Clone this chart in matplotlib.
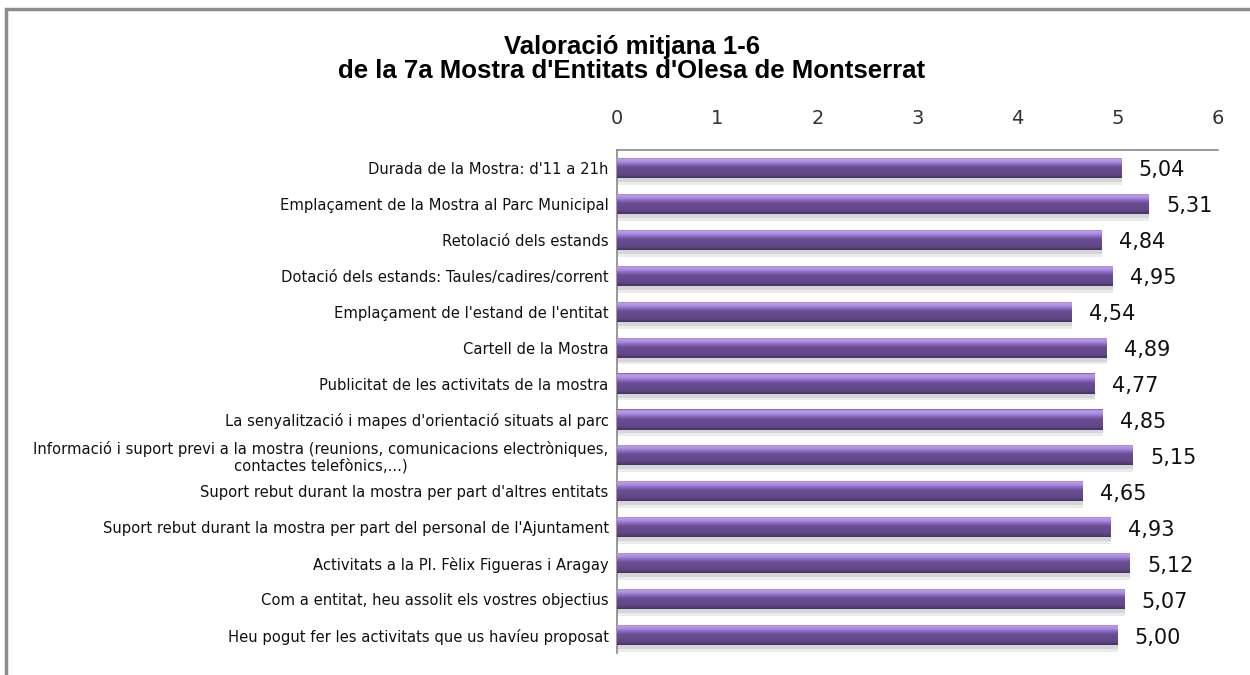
import numpy as np
import matplotlib
matplotlib.use("Agg")
import matplotlib.pyplot as plt
from matplotlib.colors import LinearSegmentedColormap
from matplotlib.patches import Rectangle

title = "Valoració mitjana 1-6\nde la 7a Mostra d'Entitats d'Olesa de Montserrat"
categories = [
    "Durada de la Mostra: d'11 a 21h",
    "Emplaçament de la Mostra al Parc Municipal",
    "Retolació dels estands",
    "Dotació dels estands: Taules/cadires/corrent",
    "Emplaçament de l'estand de l'entitat",
    "Cartell de la Mostra",
    "Publicitat de les activitats de la mostra",
    "La senyalització i mapes d'orientació situats al parc",
    "Informació i suport previ a la mostra (reunions, comunicacions electròniques,\ncontactes telefònics,...)",
    "Suport rebut durant la mostra per part d'altres entitats",
    "Suport rebut durant la mostra per part del personal de l'Ajuntament",
    "Activitats a la Pl. Fèlix Figueras i Aragay",
    "Com a entitat, heu assolit els vostres objectius",
    "Heu pogut fer les activitats que us havíeu proposat",
]
values = [5.04, 5.31, 4.84, 4.95, 4.54, 4.89, 4.77, 4.85, 5.15, 4.65, 4.93, 5.12, 5.07, 5.00]
xticks = [0, 1, 2, 3, 4, 5, 6]

fig = plt.figure(figsize=(12.5, 6.75), dpi=100)
ax = fig.add_axes([617/1250, 1-653/675, 601/1250, 503/675])

y = np.arange(len(categories))
bar_h = 0.56
bars = ax.barh(y, values, height=bar_h, color="#6f5299", zorder=3)

# shadows
ax.barh(y + bar_h/2 + 0.06, values, height=0.14, color="#d6d6d6", zorder=2, linewidth=0)
ax.barh(y + bar_h/2 + 0.15, values, height=0.08, color="#ebebeb", zorder=2, linewidth=0)

cmap = LinearSegmentedColormap.from_list("g", [
    (0.0, "#7e60b0"), (0.08, "#bc9cec"), (0.22, "#ac8ce0"), (0.36, "#8666bc"),
    (0.48, "#6a4e94"), (0.85, "#614786"), (1.0, "#443262")])
grad = np.linspace(0, 1, 64).reshape(-1, 1)
for b in bars:
    x0, yb = b.get_x(), b.get_y()
    w, h = b.get_width(), b.get_height()
    im = ax.imshow(grad, cmap=cmap, aspect="auto", extent=[x0, x0 + w, yb + h, yb],
                   origin="upper", zorder=4)
    im.set_clip_path(b)

for yi, v in zip(y, values):
    ax.text(v + 0.17, yi + 0.07, f"{v:.2f}".replace(".", ","), va="center", ha="left",
            fontsize=15, family="DejaVu Sans", color="#111111")

ax.set_xlim(0, 6)
ax.set_ylim(len(categories) - 0.5, -0.5)
ax.xaxis.tick_top()
ax.set_xticks(xticks)
ax.set_xticklabels([str(t) for t in xticks], fontsize=14, family="DejaVu Sans", color="#333333")
ax.tick_params(axis="x", length=0, pad=16)
ax.set_yticks(y)
ax.set_yticklabels(categories, fontsize=10.6, family="DejaVu Sans", color="#111111",
                   linespacing=1.05)
for lbl in ax.get_yticklabels():
    lbl.set_multialignment("center")
ax.tick_params(axis="y", length=0, pad=6)
for s in ["right", "bottom"]:
    ax.spines[s].set_visible(False)
for s in ["top", "left"]:
    ax.spines[s].set_color("#888888")
    ax.spines[s].set_linewidth(1.2)

fig.text(632/1250, 1 - 59/675, title, ha="center", va="center", fontsize=18.5,
         fontweight="bold", family="Liberation Sans", linespacing=0.95)

# border
fig.add_artist(Rectangle((6/1250, -0.1), 1.5, 1 - 9/675 + 0.1, transform=fig.transFigure,
                         fill=False, edgecolor="#8c8c8c", linewidth=2.5))

fig.savefig("out.png", dpi=100, facecolor="white")
